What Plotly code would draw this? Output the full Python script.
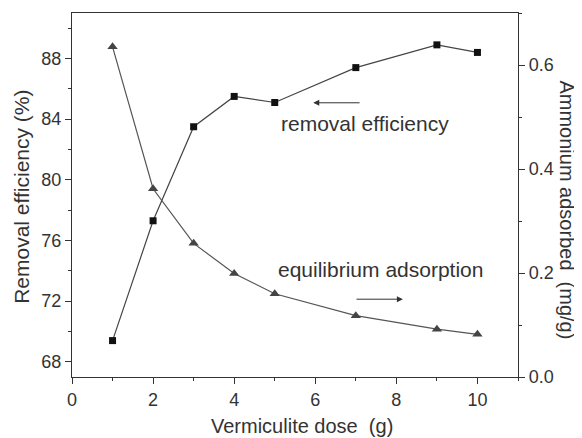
import plotly.graph_objects as go

dose = [1, 2, 3, 4, 5, 7, 9, 10]
removal_eff = [69.4, 77.3, 83.5, 85.5, 85.1, 87.4, 88.9, 88.4]
ammonium_ads = [0.635, 0.362, 0.257, 0.199, 0.160, 0.118, 0.092, 0.082]

FONT = "Liberation Sans, Arial, sans-serif"
TXT = "#333333"
LINE = "#333333"
TICK_SIZE = 18
LABEL_SIZE = 21

fig = go.Figure()
fig.add_trace(go.Scatter(
    x=dose, y=removal_eff, mode="lines+markers",
    line=dict(color="#444444", width=1.2),
    marker=dict(symbol="square", size=7, color="#111111"),
    showlegend=False))
fig.add_trace(go.Scatter(
    x=dose, y=ammonium_ads, mode="lines+markers", yaxis="y2",
    line=dict(color="#555555", width=1.2),
    marker=dict(symbol="triangle-up", size=9, color="#444444"),
    showlegend=False))

axis_common = dict(
    showgrid=False, zeroline=False, showline=True, linecolor=LINE, linewidth=1.3,
    ticks="outside", ticklen=6, tickwidth=1.2, tickcolor=LINE, automargin=False,
    tickfont=dict(family=FONT, size=TICK_SIZE, color=TXT),
    minor=dict(ticks="outside", ticklen=3, tickwidth=1.2, tickcolor=LINE),
)

# page body has an 8px margin, so the figure is sized/offset to compensate
fig.update_layout(
    width=574, height=430,
    margin=dict(l=64, r=64, t=5, b=61),
    paper_bgcolor="white", plot_bgcolor="white",
    font=dict(family=FONT, color=TXT),
    xaxis=dict(**axis_common, range=[0, 11], dtick=2, tick0=0,
               minor_dtick=1, mirror=True),
    yaxis=dict(**axis_common, range=[67, 91], dtick=4, tick0=68,
               minor_dtick=2),
    yaxis2=dict(**axis_common, range=[0, 0.7], dtick=0.2, tick0=0, tickformat=".1f",
                minor_dtick=0.1, overlaying="y", side="right"),
)

# axis titles
fig.add_annotation(x=-0.112, y=0.495, xref="paper", yref="paper", text="Removal efficiency (%)",
                   textangle=-90, showarrow=False, xanchor="center", yanchor="middle",
                   font=dict(family=FONT, size=LABEL_SIZE, color=TXT))
fig.add_annotation(x=1.111, y=0.459, xref="paper", yref="paper", text="Ammonium adsorbed  (mg/g)",
                   textangle=90, showarrow=False, xanchor="center", yanchor="middle",
                   font=dict(family=FONT, size=20, color=TXT))
fig.add_annotation(x=0.516, y=-0.1346, xref="paper", yref="paper", text="Vermiculite dose  (g)",
                   showarrow=False, xanchor="center", yanchor="middle",
                   font=dict(family=FONT, size=20, color=TXT))

# in-plot labels and arrows
fig.add_annotation(x=5.1, y=83.7, xref="x", yref="y", text="removal efficiency",
                   showarrow=False, xanchor="left", yanchor="middle",
                   font=dict(family=FONT, size=LABEL_SIZE, color=TXT))
fig.add_annotation(x=5.04, y=74.1, xref="x", yref="y", text="equilibrium adsorption",
                   showarrow=False, xanchor="left", yanchor="middle",
                   font=dict(family=FONT, size=LABEL_SIZE, color=TXT))
fig.add_annotation(x=5.95, y=85.08, ax=7.13, ay=85.08, xref="x", yref="y", axref="x", ayref="y",
                   text="", showarrow=True, arrowhead=2, arrowsize=1.2, arrowwidth=1, arrowcolor=LINE)
fig.add_annotation(x=8.16, y=72.13, ax=6.98, ay=72.13, xref="x", yref="y", axref="x", ayref="y",
                   text="", showarrow=True, arrowhead=2, arrowsize=1.2, arrowwidth=1, arrowcolor=LINE)

fig.write_html("out.html")
